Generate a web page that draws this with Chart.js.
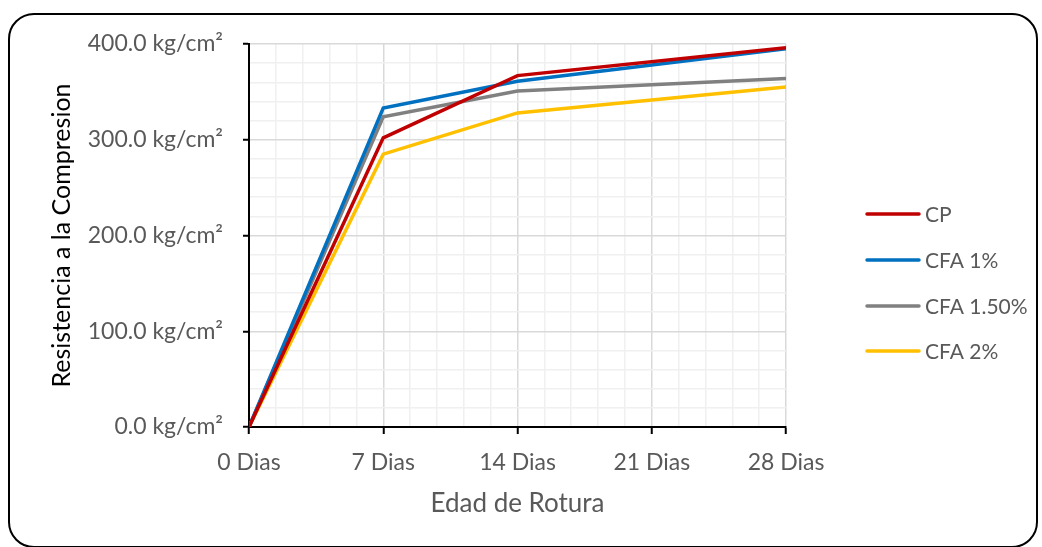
<!DOCTYPE html>
<html>
<head>
<meta charset="utf-8">
<script src="https://cdn.jsdelivr.net/npm/chart.js@4.4.1/dist/chart.umd.min.js"></script>
<style>
  html, body { margin: 0; padding: 0; background: #fff; }
  #wrap { position: relative; width: 1042px; height: 547px; }
  #frame {
    position: absolute; left: 8px; top: 13px; width: 1026px; height: 531px;
    border: 2px solid #000; border-radius: 26px; pointer-events: none;
  }
  canvas { position: absolute; left: 0; top: 0; }
</style>
</head>
<body>
<div id="wrap">
  <canvas id="chart" width="1042" height="547"></canvas>
  <div id="frame"></div>
</div>
<script>
// ===== DATA =====
const days = [0, 7, 14, 28];
const seriesNames = ["CP", "CFA 1%", "CFA 1.50%", "CFA 2%"];
const cpValues = [0, 302, 367, 396];
const cfa1Values = [0, 333, 361, 395];
const cfa15Values = [0, 324, 351, 364];
const cfa2Values = [0, 285, 328, 355];
const seriesColors = ["#C00000", "#0070C0", "#808080", "#FFC000"];

const FONT = "Lato, 'Open Sans', sans-serif";
const TEXT_GRAY = "#595959";

function toPoints(values) {
  return values.map((v, i) => ({ x: days[i], y: v }));
}

const allValues = [cpValues, cfa1Values, cfa15Values, cfa2Values];

const datasets = seriesNames.map((name, i) => ({
  label: name,
  data: toPoints(allValues[i]),
  borderColor: seriesColors[i],
  backgroundColor: seriesColors[i],
  borderWidth: 3.5,
  pointRadius: 0,
  tension: 0,
  fill: false
}));

function isMult(v, step) {
  return Math.abs(v / step - Math.round(v / step)) < 1e-6;
}

/* ===== LEGEND (right side) ===== */
const sideLegend = {
  id: "sideLegend",
  afterDraw(chart) {
    const ctx = chart.ctx;
    const rowsY = [214, 260, 306, 351];
    ctx.save();
    ctx.font = "21px " + FONT;
    ctx.textBaseline = "middle";
    ctx.textAlign = "left";
    chart.data.datasets.forEach((ds, i) => {
      const y = rowsY[i];
      ctx.strokeStyle = ds.borderColor;
      ctx.lineWidth = 3.5;
      ctx.lineCap = "round";
      ctx.beginPath();
      ctx.moveTo(867, y);
      ctx.lineTo(919, y);
      ctx.stroke();
      ctx.fillStyle = TEXT_GRAY;
      ctx.fillText(ds.label, 925, y + 1);
    });
    ctx.restore();
  }
};

new Chart(document.getElementById("chart"), {
  type: "line",
  data: { datasets },
  options: {
    responsive: false,
    animation: false,
    layout: { padding: { left: 43, right: 256, top: 44, bottom: 24 } },
    plugins: {
      legend: { display: false },
      tooltip: { enabled: false }
    },
    scales: {
      x: {
        type: "linear",
        min: 0,
        max: 28,
        afterFit(scale) { scale.height = 96; },
        ticks: {
          stepSize: 1.4,
          autoSkip: false,
          maxRotation: 0,
          padding: 15,
          color: TEXT_GRAY,
          font: { family: FONT, size: 23 },
          callback: v => isMult(v, 7) ? Math.round(v) + " Dias" : ""
        },
        grid: {
          color: c => isMult(c.tick.value, 7) ? "#d9d9d9" : "#f0f0f0",
          lineWidth: 1.5,
          tickLength: 7,
          tickWidth: 2,
          tickColor: c => isMult(c.tick.value, 7) ? "#000" : "rgba(0,0,0,0)"
        },
        border: { color: "#000", width: 2 },
        title: {
          display: true,
          text: "Edad de Rotura",
          color: TEXT_GRAY,
          font: { family: FONT, size: 26 }
        }
      },
      y: {
        min: 0,
        max: 400,
        afterFit(scale) { scale.width = 206; },
        ticks: {
          stepSize: 20,
          autoSkip: false,
          padding: 20,
          color: TEXT_GRAY,
          font: { family: FONT, size: 23 },
          callback: v => isMult(v, 100) ? v.toFixed(1) + " kg/cm²" : ""
        },
        grid: {
          color: c => isMult(c.tick.value, 100) ? "#d9d9d9" : "#f0f0f0",
          lineWidth: 1.5,
          tickLength: 6,
          tickWidth: 2,
          tickColor: c => isMult(c.tick.value, 100) ? "#000" : "rgba(0,0,0,0)"
        },
        border: { color: "#000", width: 2 },
        title: {
          display: true,
          text: "Resistencia a la Compresion",
          color: "#000",
          font: { family: FONT, size: 25 }
        }
      }
    }
  },
  plugins: [sideLegend]
});
</script>
</body>
</html>
